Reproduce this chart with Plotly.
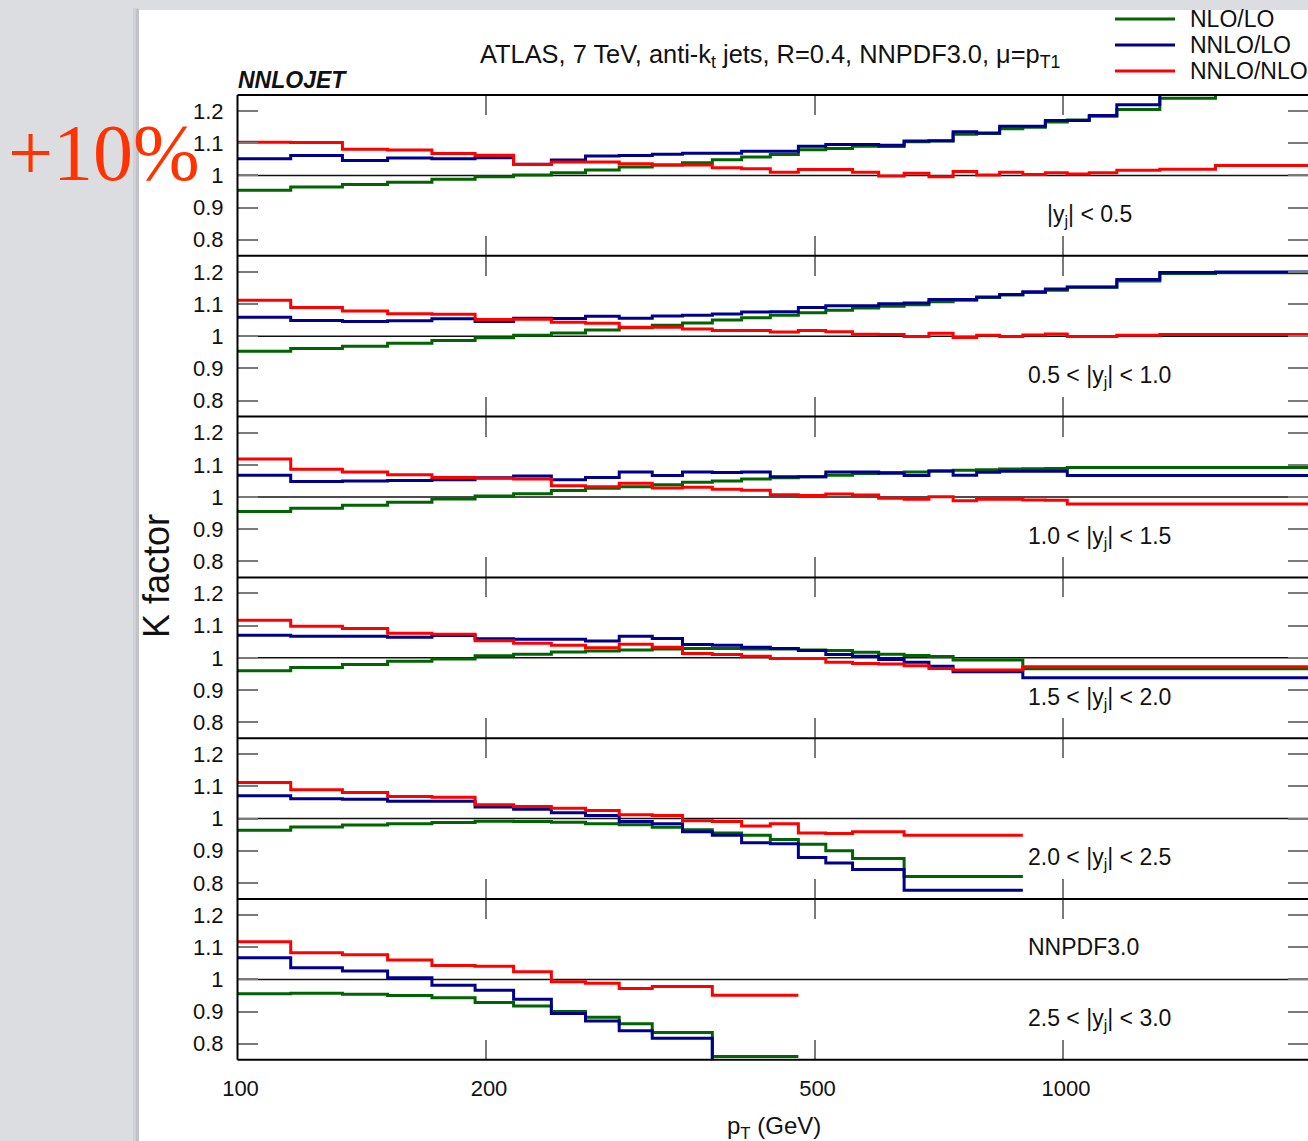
import plotly.graph_objects as go

# ---------------------------------------------------------------------------
# Data: K factors per pT bin, six rapidity slices
# ---------------------------------------------------------------------------
pt_edges = [100, 116, 134, 152, 172, 194, 216, 240, 264, 290, 318, 346, 376,
            408, 442, 478, 516, 556, 598, 642, 688, 736, 786, 838, 894, 952,
            1012, 1076, 1162, 1310, 1530, 1992]

rapidity_labels = ["|y<sub>j</sub>| < 0.5",
                   "0.5 < |y<sub>j</sub>| < 1.0",
                   "1.0 < |y<sub>j</sub>| < 1.5",
                   "1.5 < |y<sub>j</sub>| < 2.0",
                   "2.0 < |y<sub>j</sub>| < 2.5",
                   "2.5 < |y<sub>j</sub>| < 3.0"]

series_names = ["NLO/LO", "NNLO/LO", "NNLO/NLO"]

# |y| < 0.5
nlo_lo_1 = [0.954, 0.964, 0.972, 0.979, 0.988, 0.996, 1.001, 1.008, 1.017, 1.026,
            1.032, 1.039, 1.049, 1.057, 1.065, 1.080, 1.084, 1.091, 1.090, 1.105,
            1.107, 1.128, 1.130, 1.145, 1.150, 1.166, 1.172, 1.184, 1.205, 1.240, 1.300]
nnlo_lo_1 = [1.052, 1.062, 1.046, 1.054, 1.052, 1.055, 1.035, 1.048, 1.060, 1.062,
             1.066, 1.069, 1.069, 1.075, 1.075, 1.091, 1.096, 1.096, 1.094, 1.107,
             1.108, 1.136, 1.132, 1.153, 1.153, 1.171, 1.171, 1.186, 1.220, 1.290, 1.330]
nnlo_nlo_1 = [1.103, 1.102, 1.081, 1.079, 1.068, 1.063, 1.034, 1.042, 1.042, 1.036,
              1.032, 1.032, 1.024, 1.021, 1.010, 1.018, 1.018, 1.010, 0.998, 1.007,
              0.996, 1.012, 1.001, 1.010, 1.003, 1.008, 1.004, 1.008, 1.016, 1.019, 1.031]

# 0.5 < |y| < 1.0
nlo_lo_2 = [0.953, 0.962, 0.969, 0.978, 0.987, 0.995, 1.003, 1.010, 1.019, 1.026,
            1.034, 1.041, 1.050, 1.057, 1.065, 1.073, 1.081, 1.088, 1.093, 1.098,
            1.107, 1.112, 1.120, 1.128, 1.136, 1.143, 1.152, 1.152, 1.172, 1.195, 1.197]
nnlo_lo_2 = [1.059, 1.049, 1.046, 1.048, 1.054, 1.046, 1.056, 1.055, 1.062, 1.056,
             1.063, 1.065, 1.069, 1.075, 1.076, 1.089, 1.095, 1.095, 1.101, 1.103,
             1.114, 1.114, 1.122, 1.130, 1.138, 1.147, 1.153, 1.153, 1.176, 1.198, 1.200]
nnlo_nlo_2 = [1.112, 1.089, 1.078, 1.070, 1.068, 1.052, 1.053, 1.043, 1.040, 1.028,
              1.028, 1.022, 1.018, 1.018, 1.013, 1.018, 1.014, 1.006, 1.005, 0.999,
              1.009, 0.996, 1.003, 0.999, 1.004, 1.007, 0.999, 0.999, 1.003, 1.005, 1.005]

# 1.0 < |y| < 1.5
nlo_lo_3 = [0.955, 0.965, 0.974, 0.984, 0.994, 1.003, 1.010, 1.020, 1.027, 1.032,
            1.038, 1.046, 1.050, 1.056, 1.060, 1.063, 1.068, 1.073, 1.076, 1.078,
            1.081, 1.083, 1.085, 1.087, 1.088, 1.089, 1.092, 1.092, 1.092, 1.092, 1.092]
nnlo_lo_3 = [1.068, 1.048, 1.050, 1.051, 1.054, 1.060, 1.065, 1.054, 1.061, 1.078,
             1.067, 1.078, 1.076, 1.078, 1.063, 1.063, 1.078, 1.078, 1.074, 1.067,
             1.081, 1.068, 1.077, 1.080, 1.080, 1.080, 1.067, 1.067, 1.067, 1.067, 1.067]
nnlo_nlo_3 = [1.118, 1.086, 1.078, 1.069, 1.061, 1.058, 1.056, 1.035, 1.032, 1.043,
              1.028, 1.030, 1.024, 1.021, 1.007, 1.005, 1.009, 1.006, 0.996, 0.993,
              1.001, 0.988, 0.993, 0.993, 0.991, 0.990, 0.978, 0.978, 0.978, 0.978, 0.978]

# 1.5 < |y| < 2.0
nlo_lo_4 = [0.960, 0.970, 0.979, 0.989, 0.996, 1.006, 1.011, 1.018, 1.021, 1.024,
            1.027, 1.029, 1.029, 1.027, 1.027, 1.024, 1.023, 1.017, 1.011, 1.007,
            1.004, 0.993, 0.993, 0.993, 0.966, 0.966, 0.966, 0.966, 0.966, 0.966, 0.966]
nnlo_lo_4 = [1.070, 1.067, 1.067, 1.064, 1.069, 1.059, 1.058, 1.058, 1.052, 1.067,
             1.060, 1.041, 1.039, 1.033, 1.029, 1.023, 1.010, 1.005, 0.995, 0.986,
             0.974, 0.957, 0.957, 0.957, 0.938, 0.938, 0.938, 0.938, 0.938, 0.938, 0.938]
nnlo_nlo_4 = [1.117, 1.098, 1.091, 1.076, 1.073, 1.053, 1.045, 1.039, 1.031, 1.042,
              1.033, 1.013, 1.010, 1.005, 0.998, 0.998, 0.986, 0.982, 0.981, 0.975,
              0.967, 0.962, 0.962, 0.962, 0.972, 0.972, 0.972, 0.972, 0.972, 0.972, 0.972]

# 2.0 < |y| < 2.5
nlo_lo_5 = [0.964, 0.974, 0.980, 0.984, 0.988, 0.992, 0.991, 0.989, 0.984, 0.981,
            0.973, 0.965, 0.955, 0.948, 0.935, 0.920, 0.900, 0.876, 0.876, 0.820,
            0.820, 0.820, 0.820, 0.820]
nnlo_lo_5 = [1.071, 1.062, 1.060, 1.054, 1.054, 1.036, 1.029, 1.018, 1.010, 0.991,
             0.984, 0.959, 0.948, 0.925, 0.922, 0.879, 0.862, 0.842, 0.842, 0.777,
             0.777, 0.777, 0.777, 0.777]
nnlo_nlo_5 = [1.112, 1.090, 1.081, 1.069, 1.066, 1.043, 1.038, 1.032, 1.025, 1.012,
              1.010, 0.993, 0.991, 0.977, 0.984, 0.955, 0.954, 0.959, 0.959, 0.948,
              0.948, 0.948, 0.948, 0.948]

# 2.5 < |y| < 3.0
nlo_lo_6 = [0.955, 0.957, 0.954, 0.950, 0.943, 0.928, 0.917, 0.900, 0.882, 0.862,
            0.835, 0.835, 0.760, 0.760, 0.760]
nnlo_lo_6 = [1.067, 1.036, 1.026, 1.005, 0.982, 0.966, 0.938, 0.894, 0.871, 0.840,
             0.817, 0.817, 0.720, 0.720, 0.720]
nnlo_nlo_6 = [1.117, 1.083, 1.077, 1.060, 1.043, 1.041, 1.024, 0.993, 0.988, 0.972,
              0.978, 0.978, 0.951, 0.951, 0.951]

y_tick_vals = [0.8, 0.9, 1.0, 1.1, 1.2]
y_tick_text = ["0.8", "0.9", "1", "1.1", "1.2"]
x_tick_vals = [100, 200, 500, 1000]
x_tick_text = ["100", "200", "500", "1000"]

panels = [
    (nlo_lo_1, nnlo_lo_1, nnlo_nlo_1),
    (nlo_lo_2, nnlo_lo_2, nnlo_nlo_2),
    (nlo_lo_3, nnlo_lo_3, nnlo_nlo_3),
    (nlo_lo_4, nnlo_lo_4, nnlo_nlo_4),
    (nlo_lo_5, nnlo_lo_5, nnlo_nlo_5),
    (nlo_lo_6, nnlo_lo_6, nnlo_nlo_6),
]

# ---------------------------------------------------------------------------
# Page geometry (pixels) and styling
# ---------------------------------------------------------------------------
W, H = 1308, 1141
FONT = "Liberation Sans"
COLORS = ["#006400", "#00008c", "#ff0000"]
TICK_GREY = "#7a7a7a"
PAGE_GREY = "#dcdde0"
TEXT = "#111111"

plot_left = 237.5
panel_top = 95.0
panel_h = 160.8
px_per_decade = 825.5
x_range = [2.0, 2.0 + (W - plot_left) / px_per_decade]


def fx(px):
    return px / W


def fy(py):
    return 1.0 - py / H


fig = go.Figure()
layout = dict(
    width=W, height=H,
    margin=dict(l=0, r=0, t=0, b=0, pad=0, autoexpand=False),
    paper_bgcolor=PAGE_GREY,
    plot_bgcolor="rgba(0,0,0,0)",
    showlegend=False,
    font=dict(family=FONT, color=TEXT),
)

shapes = [
    # white page with a soft shadow on its left edge
    dict(type="rect", xref="paper", yref="paper", x0=fx(133), x1=fx(139),
         y0=fy(1141), y1=fy(8), fillcolor="rgba(0,0,0,0.05)", line_width=0, layer="below"),
    dict(type="rect", xref="paper", yref="paper", x0=fx(136), x1=fx(139),
         y0=fy(1141), y1=fy(9), fillcolor="rgba(0,0,0,0.07)", line_width=0, layer="below"),
    dict(type="rect", xref="paper", yref="paper", x0=fx(139), x1=fx(W + 5),
         y0=fy(H + 5), y1=fy(10), fillcolor="white", line_width=0, layer="below"),
    # left frame of the stacked panels
    dict(type="line", xref="paper", yref="paper", x0=fx(plot_left), x1=fx(plot_left),
         y0=fy(panel_top + 6 * panel_h), y1=fy(panel_top),
         line=dict(color="black", width=2)),
]
# horizontal panel borders
for k in range(7):
    yb = panel_top + k * panel_h
    shapes.append(dict(type="line", xref="paper", yref="paper",
                       x0=fx(plot_left), x1=fx(W + 5), y0=fy(yb), y1=fy(yb),
                       line=dict(color="black", width=2)))

annotations = []

for i, series in enumerate(panels):
    n = "" if i == 0 else str(i + 1)
    top = panel_top + i * panel_h
    bottom = top + panel_h
    last = i == len(panels) - 1

    layout["xaxis" + n] = dict(
        type="log", range=x_range, domain=[fx(plot_left), 1.0], anchor="y" + n,
        tickvals=x_tick_vals, ticktext=x_tick_text, showticklabels=last,
        ticks="inside", ticklen=20, tickwidth=1.5, tickcolor=TICK_GREY,
        showline=False, mirror="ticks", showgrid=False, zeroline=False,
        automargin=False,
        tickfont=dict(size=22, color=TEXT), ticklabelstandoff=13, ticklabelshift=3,
    )
    layout["yaxis" + n] = dict(
        range=[0.75, 1.25], domain=[fy(bottom), fy(top)], anchor="x" + n,
        tickvals=y_tick_vals, ticktext=y_tick_text,
        ticks="inside", ticklen=20, tickwidth=1.5, tickcolor=TICK_GREY,
        showline=False, mirror="ticks", showgrid=False, zeroline=False,
        automargin=False,
        tickfont=dict(size=22, color=TEXT), ticklabelstandoff=13,
    )

    # reference line at K = 1
    shapes.append(dict(type="line", xref="x" + n + " domain", yref="y" + n,
                       x0=0, x1=1, y0=1.0, y1=1.0,
                       line=dict(color=TEXT, width=1.5), layer="below"))

    for name, vals, color in zip(series_names, series, COLORS):
        nb = len(vals)
        fig.add_trace(go.Scatter(
            x=pt_edges[:nb + 1], y=list(vals) + [vals[-1]],
            mode="lines", line=dict(color=color, width=3, shape="hv"),
            name=name, xaxis="x" + n, yaxis="y" + n, hoverinfo="skip",
        ))

# rapidity slice labels
label_pos = [(1045, 215), (1026, 376), (1026, 537), (1026, 698), (1026, 858), (1026, 1019)]
for text, (lx, ly) in zip(rapidity_labels, label_pos):
    annotations.append(dict(text=text, x=fx(lx), y=fy(ly), xref="paper", yref="paper",
                            xanchor="left", yanchor="middle", showarrow=False,
                            font=dict(size=23, color=TEXT)))
annotations.append(dict(text="NNPDF3.0", x=fx(1026), y=fy(947), xref="paper", yref="paper",
                        xanchor="left", yanchor="middle", showarrow=False,
                        font=dict(size=23, color=TEXT)))

# legend drawn as short line samples with labels
for k, (name, color) in enumerate(zip(series_names, COLORS)):
    ly = 19 + 26 * k
    shapes.append(dict(type="line", xref="paper", yref="paper",
                       x0=fx(1115), x1=fx(1175), y0=fy(ly), y1=fy(ly),
                       line=dict(color=color, width=3)))
    annotations.append(dict(text=name, x=fx(1188), y=fy(ly), xref="paper", yref="paper",
                            xanchor="left", yanchor="middle", showarrow=False,
                            font=dict(size=23, color=TEXT)))

# title, labels and the overlaid note
annotations += [
    dict(text="ATLAS, 7 TeV, anti-k<sub>t</sub> jets, R=0.4, NNPDF3.0, \u03bc=p<sub>T1</sub>",
         x=fx(770), y=fy(56), xref="paper", yref="paper", xanchor="center", yanchor="middle",
         showarrow=False, font=dict(size=25.4, color=TEXT)),
    dict(text="<b><i>NNLOJET</i></b>", x=fx(236), y=fy(80), xref="paper", yref="paper",
         xanchor="left", yanchor="middle", showarrow=False, font=dict(size=23, color=TEXT)),
    dict(text="K factor", x=fx(156), y=fy(576), xref="paper", yref="paper", textangle=-90,
         xanchor="center", yanchor="middle", showarrow=False, font=dict(size=36, color=TEXT)),
    dict(text="p<sub>T</sub> (GeV)", x=fx(774), y=fy(1127), xref="paper", yref="paper",
         xanchor="center", yanchor="middle", showarrow=False, font=dict(size=24, color=TEXT)),
    dict(text="+10%", x=fx(6), y=fy(153), xref="paper", yref="paper",
         xanchor="left", yanchor="middle", showarrow=False,
         font=dict(family="Liberation Serif", size=80, color="#ff3300")),
]

layout["shapes"] = shapes
layout["annotations"] = annotations
fig.update_layout(**layout)

fig.write_html("out.html")
